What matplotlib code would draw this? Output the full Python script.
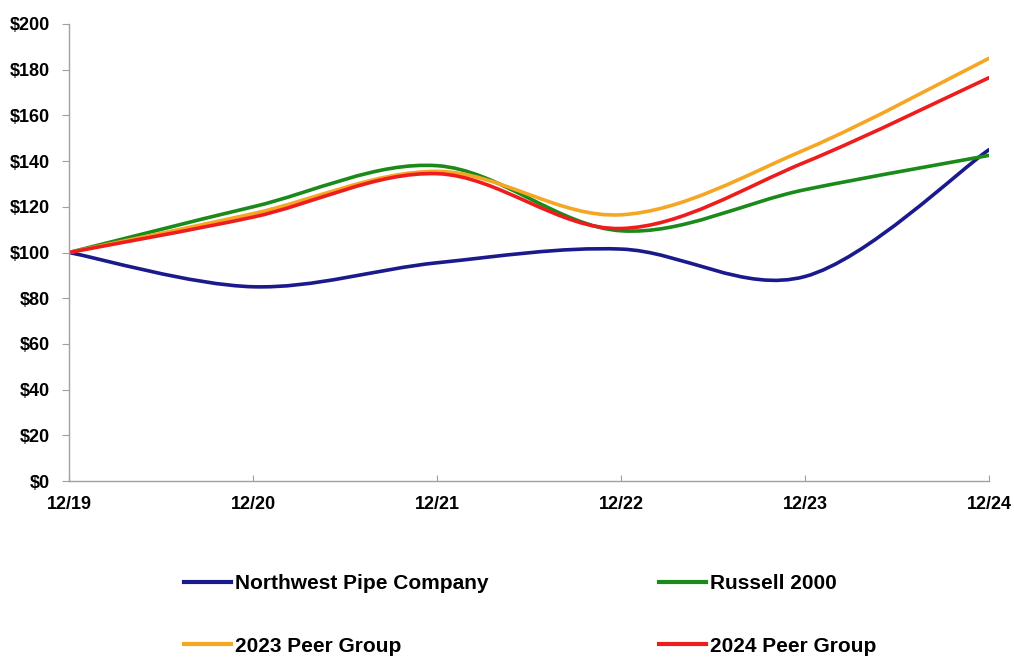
import matplotlib
matplotlib.use("Agg")
import matplotlib.pyplot as plt
from matplotlib.path import Path
from matplotlib.patches import PathPatch
from matplotlib.lines import Line2D
import numpy as np

plt.rcParams['font.family'] = ['Liberation Sans', 'DejaVu Sans']

periods = ["12/19", "12/20", "12/21", "12/22", "12/23", "12/24"]
northwest = [100, 85, 95.5, 101.5, 89.5, 145]
russell = [100, 120, 138, 109.5, 127.5, 142.5]
peer2023 = [100, 117, 135.5, 116.5, 145, 185]
peer2024 = [100, 115.5, 134.5, 110.5, 139.5, 176.5]

series = [
    ("Northwest Pipe Company", northwest, "#1a1a8c"),
    ("Russell 2000", russell, "#1a8a1a"),
    ("2023 Peer Group", peer2023, "#f5a623"),
    ("2024 Peer Group", peer2024, "#ee1c1c"),
]

W, H = 1014, 657
fig = plt.figure(figsize=(W / 100, H / 100), dpi=100)
ax = fig.add_axes([69 / W, 1 - 481 / H, 920 / W, 457 / H])


def smooth_path(xs, ys):
    xs = np.asarray(xs, float)
    ys = np.asarray(ys, float)
    n = len(xs)
    verts = [(xs[0], ys[0])]
    codes = [Path.MOVETO]
    for i in range(n - 1):
        p0 = np.array([xs[max(i - 1, 0)], ys[max(i - 1, 0)]])
        p1 = np.array([xs[i], ys[i]])
        p2 = np.array([xs[i + 1], ys[i + 1]])
        p3 = np.array([xs[min(i + 2, n - 1)], ys[min(i + 2, n - 1)]])
        c1 = p1 + (p2 - p0) / 6.0
        c2 = p2 - (p3 - p1) / 6.0
        verts += [tuple(c1), tuple(c2), tuple(p2)]
        codes += [Path.CURVE4, Path.CURVE4, Path.CURVE4]
    return Path(verts, codes)


x = np.arange(len(periods))
for name, vals, col in series:
    patch = PathPatch(smooth_path(x, vals), facecolor="none", edgecolor=col,
                      lw=2.6, capstyle="round", joinstyle="round")
    ax.add_patch(patch)

ax.set_xlim(0, len(periods) - 1)
ax.set_ylim(0, 200)
ax.set_yticks(range(0, 201, 20))
ax.set_yticklabels([f"${v}" for v in range(0, 201, 20)], fontsize=13, fontweight="bold")
ax.set_xticks(x)
ax.set_xticklabels(periods, fontsize=13, fontweight="bold")
for s in ["top", "right"]:
    ax.spines[s].set_visible(False)
for s in ["left", "bottom"]:
    ax.spines[s].set_color("#a0a0a0")
    ax.spines[s].set_linewidth(1.0)
ax.tick_params(axis="y", length=5, color="#a0a0a0", pad=9)
ax.tick_params(axis="x", length=4, color="#a0a0a0", pad=11, direction="in")

handles = [Line2D([], [], color=c, lw=3) for _, _, c in series]
labels = [n for n, _, _ in series]
legkw = dict(loc="upper left", frameon=False, handlelength=2.25, handletextpad=0.2,
             labelspacing=2.1, borderpad=0, borderaxespad=0,
             prop={"weight": "bold", "size": 15})
fig.legend([handles[0], handles[2]], [labels[0], labels[2]],
           bbox_to_anchor=(184 / W, 1 - 574 / H), **legkw)
fig.legend([handles[1], handles[3]], [labels[1], labels[3]],
           bbox_to_anchor=(659 / W, 1 - 574 / H), **legkw)

fig.savefig("out.png", dpi=100)
